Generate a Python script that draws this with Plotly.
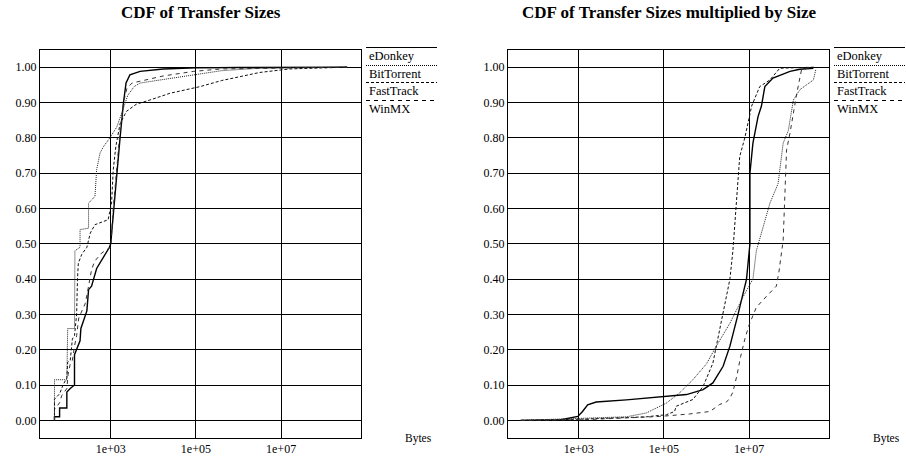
import numpy as np
import plotly.graph_objects as go

# ---- CDF of transfer sizes (size given as log10 of bytes) ----
t_edonkey_exp = [1.68, 1.68, 1.80, 1.80, 1.97, 1.97, 2.05, 2.15, 2.15, 2.20, 2.28, 2.30, 2.36, 2.44, 2.48,
                 2.55, 2.67, 2.83, 2.97, 3.00, 3.07, 3.14, 3.22, 3.30, 3.36, 3.45, 3.69, 4.23, 5.00, 6.00, 8.55]
t_edonkey_cdf = [0.00, 0.01, 0.01, 0.035, 0.035, 0.08, 0.09, 0.10, 0.186, 0.20, 0.225, 0.26, 0.28, 0.31, 0.37,
                 0.38, 0.43, 0.46, 0.49, 0.50, 0.60, 0.70, 0.80, 0.90, 0.955, 0.978, 0.988, 0.995, 0.998, 0.999, 1.0]

t_bittorrent_exp = [1.68, 1.68, 1.97, 1.99, 2.15, 2.16, 2.28, 2.28, 2.48, 2.48, 2.63, 2.67, 2.75, 2.83, 2.98,
                    3.14, 3.26, 3.40, 3.55, 3.69, 4.23, 4.94, 5.60, 6.50, 8.55]
t_bittorrent_cdf = [0.00, 0.115, 0.115, 0.26, 0.26, 0.48, 0.49, 0.54, 0.544, 0.615, 0.634, 0.71, 0.757, 0.775, 0.80,
                    0.83, 0.87, 0.92, 0.945, 0.955, 0.965, 0.978, 0.99, 0.997, 1.0]

t_fasttrack_exp = [1.68, 1.68, 1.80, 1.88, 1.97, 1.99, 2.05, 2.10, 2.15, 2.20, 2.22, 2.24, 2.32, 2.44, 2.48, 2.52,
                   2.63, 2.94, 3.02, 3.06, 3.12, 3.22, 3.37, 3.60, 3.92, 4.39, 5.10, 5.60, 6.50, 7.20, 8.55]
t_fasttrack_cdf = [0.00, 0.06, 0.075, 0.10, 0.12, 0.165, 0.17, 0.23, 0.24, 0.30, 0.40, 0.445, 0.47, 0.49, 0.51, 0.53,
                   0.554, 0.568, 0.615, 0.71, 0.775, 0.84, 0.875, 0.895, 0.907, 0.926, 0.945, 0.962, 0.985, 0.995, 1.0]

t_winmx_exp = [1.68, 1.68, 1.80, 1.85, 1.97, 2.00, 2.05, 2.10, 2.15, 2.20, 2.25, 2.32, 2.40, 2.45, 2.50, 2.55,
               2.62, 2.79, 2.97, 3.00, 3.06, 3.14, 3.22, 3.30, 3.38, 3.50, 3.90, 4.23, 4.94, 5.60, 8.55]
t_winmx_cdf = [0.00, 0.03, 0.05, 0.07, 0.09, 0.13, 0.16, 0.17, 0.21, 0.24, 0.29, 0.31, 0.33, 0.36, 0.40, 0.426,
               0.45, 0.474, 0.488, 0.49, 0.60, 0.72, 0.82, 0.90, 0.94, 0.955, 0.965, 0.975, 0.988, 0.995, 1.0]

# ---- CDF of transfer sizes weighted by size ----
w_edonkey_exp = [1.64, 2.55, 2.98, 3.09, 3.21, 3.41, 4.12, 4.90, 5.53, 5.92, 6.15, 6.39, 6.55, 6.74, 6.94,
                 7.02, 7.02, 7.09, 7.21, 7.29, 7.37, 7.56, 7.96, 8.19, 8.51]
w_edonkey_cdf = [0.0, 0.001, 0.011, 0.025, 0.044, 0.052, 0.058, 0.066, 0.073, 0.087, 0.106, 0.153, 0.21, 0.30, 0.40,
                 0.50, 0.70, 0.785, 0.86, 0.89, 0.945, 0.969, 0.988, 0.994, 0.997]

w_bittorrent_exp = [1.64, 3.33, 4.12, 4.59, 5.06, 5.37, 5.68, 6.00, 6.23, 6.55, 6.86, 7.09, 7.17, 7.49, 7.68,
                    7.80, 7.92, 8.04, 8.19, 8.51, 8.57]
w_bittorrent_cdf = [0.0, 0.006, 0.01, 0.021, 0.049, 0.078, 0.115, 0.16, 0.21, 0.275, 0.35, 0.40, 0.48, 0.615, 0.67,
                    0.785, 0.82, 0.907, 0.936, 0.964, 0.995]

w_fasttrack_exp = [1.64, 3.00, 4.59, 5.06, 5.25, 5.29, 5.68, 5.92, 6.15, 6.39, 6.55, 6.62, 6.78, 6.90, 7.06,
                   7.25, 7.49, 7.72, 8.55]
w_fasttrack_cdf = [0.0, 0.003, 0.01, 0.016, 0.025, 0.04, 0.059, 0.096, 0.162, 0.30, 0.40, 0.48, 0.747, 0.80, 0.89,
                   0.945, 0.964, 0.997, 1.0]

w_winmx_exp = [1.64, 3.17, 4.90, 5.60, 6.08, 6.31, 6.47, 6.55, 6.62, 6.72, 6.80, 6.90, 7.00, 7.10, 7.17, 7.40,
               7.64, 7.70, 7.80, 7.88, 7.96, 8.12, 8.23, 8.47]
w_winmx_cdf = [0.0, 0.002, 0.011, 0.018, 0.025, 0.045, 0.052, 0.063, 0.08, 0.13, 0.18, 0.23, 0.27, 0.30, 0.32, 0.35,
               0.38, 0.42, 0.51, 0.766, 0.813, 0.926, 0.992, 1.0]

networks = ["eDonkey", "BitTorrent", "FastTrack", "WinMX"]
x_tick_vals = [1e3, 1e5, 1e7]
x_tick_text = ["1e+03", "1e+05", "1e+07"]
y_tick_vals = [0.0, 0.1, 0.2, 0.3, 0.4, 0.5, 0.6, 0.7, 0.8, 0.9, 1.0]
titles = ["CDF of Transfer Sizes", "CDF of Transfer Sizes multiplied by Size"]
x_unit = "Bytes"

panel_series = [
    [(t_edonkey_exp, t_edonkey_cdf), (t_bittorrent_exp, t_bittorrent_cdf),
     (t_fasttrack_exp, t_fasttrack_cdf), (t_winmx_exp, t_winmx_cdf)],
    [(w_edonkey_exp, w_edonkey_cdf), (w_bittorrent_exp, w_bittorrent_cdf),
     (w_fasttrack_exp, w_fasttrack_cdf), (w_winmx_exp, w_winmx_cdf)],
]

W, H = 906, 459
FONT = "Liberation Serif, Times New Roman, serif"
styles = {
    "eDonkey": dict(color="black", width=1.4, dash="solid"),
    "BitTorrent": dict(color="#222", width=1, dash="1px,1px"),
    "FastTrack": dict(color="#111", width=1, dash="3px,2px"),
    "WinMX": dict(color="#333", width=1, dash="4px,4px"),
}

# panel geometry in pixels
panels = [dict(x0=40, x1=361, leg0=366, leg1=437), dict(x0=508, x1=829, leg0=834, leg1=905)]
plot_top, plot_bottom = 49.5, 438
legend_rows = [47.5, 65.5, 82.5, 100.5]

fig = go.Figure()

def px(x):
    return x / W

def py(y):
    return 1 - y / H

for i, (panel, series) in enumerate(zip(panels, panel_series)):
    xa = "x" if i == 0 else "x2"
    ya = "y" if i == 0 else "y2"
    for name, (exps, cdf) in zip(networks, series):
        fig.add_trace(go.Scatter(
            x=np.power(10.0, exps), y=cdf, mode="lines", name=name,
            line=styles[name], xaxis=xa, yaxis=ya, showlegend=False, hoverinfo="skip"))

    axis_common = dict(showline=True, mirror=True, linecolor="black", linewidth=1,
                       showgrid=True, gridcolor="black", gridwidth=1, zeroline=False,
                       ticks="", tickfont=dict(family=FONT, size=12, color="black"))
    fig.update_layout({
        ("xaxis" if i == 0 else "xaxis2"): dict(
            type="log", range=[1.34, 8.876], domain=[px(panel["x0"]), px(panel["x1"])],
            tickvals=x_tick_vals, ticktext=x_tick_text, anchor=ya, **axis_common),
        ("yaxis" if i == 0 else "yaxis2"): dict(
            range=[-0.05, 1.05], domain=[py(plot_bottom), py(plot_top)],
            tickvals=y_tick_vals, tickformat=".2f", anchor=xa, **axis_common),
    })

    # panel title
    fig.add_annotation(x=px((panel["x0"] + panel["x1"]) / 2), y=py(12), xref="paper", yref="paper",
                       text="<b>%s</b>" % titles[i], showarrow=False,
                       font=dict(family=FONT, size=17, color="black"), xanchor="center", yanchor="middle")

    # legend: line sample above each label
    for ly, name in zip(legend_rows, networks):
        fig.add_shape(type="line", xref="paper", yref="paper",
                      x0=px(panel["leg0"]), x1=px(panel["leg1"]), y0=py(ly), y1=py(ly),
                      line=dict(color="black", width=1, dash=styles[name]["dash"]))
        fig.add_annotation(x=px(panel["leg0"] + 0.5), y=py(ly + 8), xref="paper", yref="paper",
                           text=name, showarrow=False, xanchor="left", yanchor="middle",
                           font=dict(family=FONT, size=12.5, color="black"))

    # unit label under the legend column
    fig.add_annotation(x=px(panel["leg1"] - 3), y=py(438), xref="paper", yref="paper",
                       text=x_unit, showarrow=False, xanchor="right", yanchor="middle",
                       font=dict(family=FONT, size=11.5, color="black"))

fig.update_layout(width=W, height=H, margin=dict(l=0, r=0, t=0, b=0),
                  paper_bgcolor="white", plot_bgcolor="white", showlegend=False)

fig.write_html("out.html")
